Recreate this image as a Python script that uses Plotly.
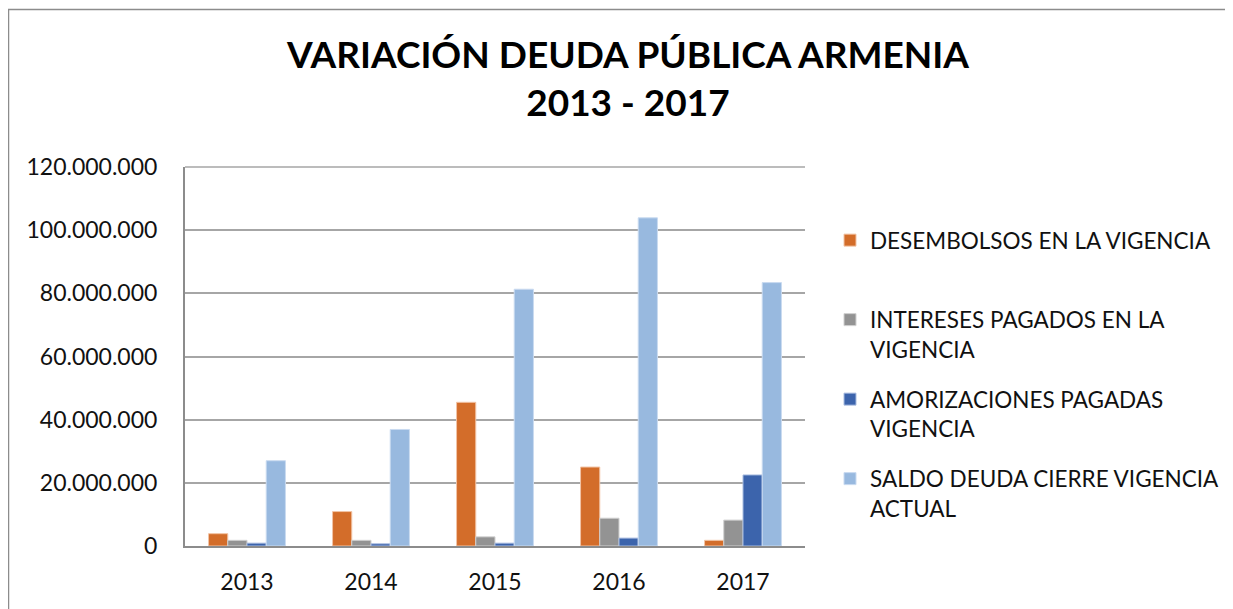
import plotly.graph_objects as go

years = ["2013", "2014", "2015", "2016", "2017"]
desembolsos = [3.9e6, 10.9e6, 45.5e6, 25.0e6, 1.8e6]
intereses = [1.8e6, 1.8e6, 2.9e6, 8.8e6, 8.2e6]
amortizaciones = [0.9e6, 0.7e6, 0.9e6, 2.5e6, 22.5e6]
saldo = [27.0e6, 36.9e6, 81.3e6, 103.9e6, 83.4e6]

names = ["DESEMBOLSOS EN LA VIGENCIA<br> ",
         "INTERESES PAGADOS EN LA<br>VIGENCIA",
         "AMORIZACIONES PAGADAS<br>VIGENCIA",
         "SALDO DEUDA CIERRE VIGENCIA<br>ACTUAL"]
colors = ["#D36D2A", "#939393", "#3C64AC", "#98B9DF"]
edges = ["#F2C4A5", "#D0D0D0", "#A9BDE0", "#C9DAF0"]
tick_vals = [0, 20e6, 40e6, 60e6, 80e6, 100e6, 120e6]
tick_text = ["0", "20.000.000", "40.000.000", "60.000.000", "80.000.000", "100.000.000", "120.000.000"]

FONT = "Lato"
fig = go.Figure()
for i, (n, vals) in enumerate(zip(names, [desembolsos, intereses, amortizaciones, saldo])):
    fig.add_trace(go.Bar(x=years, y=vals, name=n, marker_color=colors[i],
                         marker_line=dict(color=edges[i], width=1), legendgroup=str(i)))

# page body has an 8px margin: work in figure coordinates = screen - 8
O = 8
W, H = 1233 - O, 609 - O
L, R, T, B = 185 - O, 805 - O, 167 - O, 546 - O
PW, PH = R - L, B - T

def px(x):
    return (x - O - L) / PW

def py(y):
    return (B - (y - O)) / PH

fig.update_layout(
    width=W, height=H,
    margin=dict(l=L, r=W - R, t=T, b=H - B, autoexpand=False),
    paper_bgcolor="white", plot_bgcolor="white",
    barmode="group", bargap=0.38, bargroupgap=0,
    font=dict(family=FONT, size=23, color="#111111"),
    showlegend=True,
    legend=dict(x=px(830), y=py(219), xanchor="left", yanchor="top",
                font=dict(size=22.5, family=FONT, color="#111111"), valign="top",
                tracegroupgap=18, itemwidth=30, bgcolor="rgba(0,0,0,0)"),
    xaxis=dict(showline=True, linecolor="#8C8C8C", linewidth=2, ticks="", showgrid=False,
               tickfont=dict(size=23, family=FONT), ticklabelstandoff=14),
    yaxis=dict(range=[0, 120e6], tickvals=tick_vals, ticktext=tick_text, showgrid=True,
               gridcolor="#A6A6A6", gridwidth=1.5, showline=True, linecolor="#8C8C8C", linewidth=2,
               zeroline=False, ticks="", tickfont=dict(size=23, family=FONT), ticklabelstandoff=21),
    annotations=[dict(text="<b>VARIACIÓN DEUDA PÚBLICA ARMENIA<br>2013 - 2017</b>",
                      xref="paper", yref="paper", x=px(627), y=py(29),
                      xanchor="center", yanchor="top", showarrow=False,
                      font=dict(size=37, family=FONT, color="#000000"))],
    shapes=[dict(type="rect", xref="paper", yref="paper",
                 x0=px(8.5), x1=px(1300), y0=py(700), y1=py(9.5),
                 line=dict(color="#8C8C8C", width=1.5), fillcolor="rgba(0,0,0,0)", layer="below"),
            dict(type="line", xref="paper", yref="paper", x0=0, x1=1, y0=1, y1=1,
                 line=dict(color="#A6A6A6", width=1.5))],
)
fig.write_html("out.html")
